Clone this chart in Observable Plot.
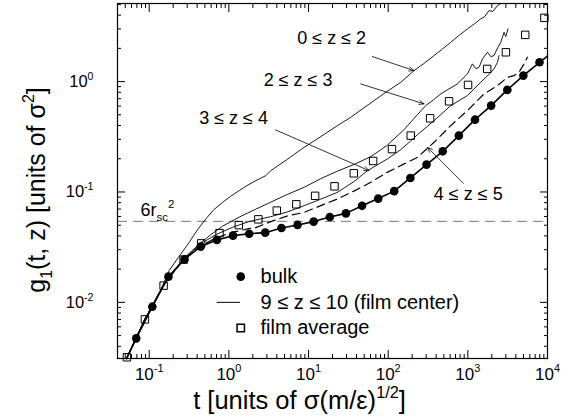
<!DOCTYPE html>
<html>
<head>
<meta charset="utf-8">
<script src="https://cdn.jsdelivr.net/npm/d3@7"></script>
<script src="https://cdn.jsdelivr.net/npm/@observablehq/plot@0.6"></script>
<style>
  html, body { margin: 0; padding: 0; background: #fff; }
  #chart svg { display: block; }
</style>
</head>
<body>
<div id="chart"></div>
<script>
// Mean-square displacement g1(t, z) of chain monomers, log-log.

// bulk melt (filled circles)
const bulkT = [0.0687, 0.1095, 0.1745, 0.278, 0.443, 0.707, 1.127, 1.80, 2.86, 4.57, 7.28, 11.6, 18.5, 29.5, 47.0, 75.0, 119, 190, 303, 484, 771, 1230, 1960, 3130, 4980, 7940];
const bulkG = [0.00472, 0.00914, 0.0171, 0.0246, 0.0320, 0.0368, 0.0402, 0.0419, 0.0428, 0.0472, 0.0503, 0.0539, 0.0594, 0.0640, 0.0749, 0.0871, 0.1018, 0.134, 0.177, 0.2335, 0.324, 0.452, 0.606, 0.841, 1.133, 1.496];

// film average (open squares)
const filmAvgT = [0.0525, 0.0883, 0.1517, 0.270, 0.449, 0.764, 1.335, 2.345, 4.0, 7.03, 12.1, 21.2, 37.0, 64.7, 111.6, 192, 336, 581, 1006, 1750, 3006, 5250, 9140];
const filmAvgG = [0.00318, 0.00701, 0.01417, 0.02438, 0.03424, 0.04238, 0.0501, 0.0565, 0.0678, 0.0773, 0.0923, 0.1125, 0.1476, 0.191, 0.2445, 0.324, 0.465, 0.663, 0.933, 1.303, 1.843, 2.65, 3.78];

// 9 <= z <= 10 (film center)
const centerT = [0.052, 0.0687, 0.1095, 0.1745, 0.278, 0.443, 0.707, 1.127, 1.80, 2.86, 4.57, 7.28, 11.6, 18.5, 29.5, 47.0, 75.0, 119, 190, 303, 484, 771, 1230, 1960, 3130, 4980, 7940, 10000];
const centerG = [0.00309, 0.00472, 0.00914, 0.0171, 0.0246, 0.0320, 0.0368, 0.0402, 0.0419, 0.0428, 0.0472, 0.0503, 0.0539, 0.0594, 0.0640, 0.0749, 0.0871, 0.1018, 0.134, 0.177, 0.2335, 0.324, 0.452, 0.606, 0.841, 1.133, 1.496, 1.70];

// 0 <= z <= 2
const z02T = [0.0518, 0.0883, 0.140, 0.178, 0.236, 0.318, 0.397, 0.514, 0.648, 0.834, 1.06, 1.346, 1.682, 2.18, 2.91, 3.365, 5.34, 8.81, 14.27, 23.1, 33.9, 48.0, 66.5, 96.0, 144, 211, 280, 377, 470, 610, 769, 988, 1221, 1451, 1630, 1845, 2053, 2352, 2588];
const z02G = [0.00309, 0.00705, 0.01303, 0.01938, 0.02595, 0.03498, 0.04465, 0.0570, 0.0692, 0.0806, 0.0917, 0.1028, 0.1142, 0.1267, 0.1406, 0.1561, 0.1964, 0.2539, 0.3174, 0.3993, 0.4748, 0.569, 0.6727, 0.812, 0.9855, 1.258, 1.456, 1.72, 1.95, 2.271, 2.611, 3.003, 3.355, 3.70, 3.88, 4.40, 4.31, 4.88, 5.09];

// 2 <= z <= 3
const z23T = [0.0518, 0.0883, 0.1516, 0.2648, 0.4453, 0.5944, 0.834, 1.346, 2.18, 3.365, 5.34, 8.81, 14.27, 23.1, 37.0, 60.5, 96.0, 158.3, 233, 296, 373, 457, 560, 740, 988, 1142, 1256, 1382, 1538, 1762, 1938, 2132, 2373, 2588, 2846, 2989, 3194];
const z23G = [0.00309, 0.00705, 0.01432, 0.02463, 0.03475, 0.0411, 0.04903, 0.05917, 0.06993, 0.0809, 0.0946, 0.1102, 0.1321, 0.1545, 0.177, 0.2091, 0.263, 0.3673, 0.5023, 0.606, 0.687, 0.7738, 0.8464, 0.9532, 1.174, 1.447, 1.311, 1.348, 1.616, 1.843, 1.685, 1.72, 2.033, 2.271, 2.798, 2.557, 3.003];

// 3 <= z <= 4
const z34T = [0.0518, 0.0883, 0.1516, 0.2725, 0.4453, 0.707, 1.1225, 1.782, 3.365, 5.34, 8.81, 14.27, 23.1, 37.0, 55.0, 98.0, 144, 192, 233, 377, 610, 988, 1451, 1938, 2132, 2352, 2463];
const z34G = [0.00309, 0.00705, 0.01432, 0.02463, 0.03404, 0.0415, 0.048, 0.0539, 0.0598, 0.0657, 0.0752, 0.0861, 0.0993, 0.1241, 0.1561, 0.1993, 0.2419, 0.29, 0.33, 0.4431, 0.606, 0.7465, 0.9855, 1.206, 1.303, 1.496, 1.72];

// 4 <= z <= 5 (dashed)
const z45T = [0.0518, 0.0883, 0.1516, 0.2725, 0.4453, 0.707, 1.1225, 1.782, 2.18, 3.365, 5.34, 8.81, 14.27, 23.1, 37.0, 60.5, 96.0, 158.3, 233, 377, 610, 988, 1597, 2352, 3141, 3799, 4390, 5072, 5595];
const z45G = [0.00309, 0.00705, 0.01432, 0.02463, 0.03265, 0.03859, 0.04327, 0.04655, 0.04752, 0.0539, 0.0604, 0.0654, 0.0752, 0.0865, 0.1018, 0.1223, 0.1497, 0.1796, 0.2061, 0.2818, 0.3993, 0.546, 0.7738, 0.92, 1.094, 1.133, 1.214, 1.447, 1.66];

// 6 r_sc^2 reference level
const sixRsc2 = 0.0542;

// layer labels and the arrows pointing at their curves
const layerLabels = ["0 \u2264 z \u2264 2", "2 \u2264 z \u2264 3", "3 \u2264 z \u2264 4", "4 \u2264 z \u2264 5"];
const labelT = [19.5, 7.40, 1.146, 1012];
const labelG = [2.453, 1.021, 0.467, 0.0946];
const arrowFromT = [63.3, 45.1, 3.86, 880];
const arrowFromG = [1.685, 0.953, 0.365, 0.1198];
const arrowToT = [211, 282, 57.4, 311];
const arrowToG = [1.258, 0.628, 0.1561, 0.2539];

// legend entries
const legendLabels = ["bulk", "9 \u2264 z \u2264 10 (film center)", "film average"];
const legendG = [0.0171, 0.0100, 0.00586];
const legendMarkT = 1.41;
const legendLineT = [0.715, 1.40];
const legendTextT = 2.50;

// ticks
const xMajor = [0.1, 1, 10, 100, 1000, 10000];
const yMajor = [0.01, 0.1, 1];

const pairs = (T, G) => T.map((t, i) => ({t, g: G[i]}));
const bulk = pairs(bulkT, bulkG);
const filmAvg = pairs(filmAvgT, filmAvgG);
const center = pairs(centerT, centerG);
const z02 = pairs(z02T, z02G);
const z23 = pairs(z23T, z23G);
const z34 = pairs(z34T, z34G);
const z45 = pairs(z45T, z45G);
const labels = layerLabels.map((s, i) => ({s, t: labelT[i], g: labelG[i]}));
const arrows = layerLabels.map((s, i) => ({x1: arrowFromT[i], y1: arrowFromG[i], x2: arrowToT[i], y2: arrowToG[i]}));
const legend = legendLabels.map((s, i) => ({s, g: legendG[i]}));

const xDomain = [0.04, 10000];
const yDomain = [0.0031, 5.1];
const minorTicks = ([lo, hi]) => {
  const out = [];
  for (let e = Math.floor(Math.log10(lo)); e <= Math.ceil(Math.log10(hi)); e++)
    for (let m = 2; m <= 9; m++) {
      const v = m * Math.pow(10, e);
      if (v >= lo && v <= hi) out.push(v);
    }
  return out;
};
const xMinor = minorTicks(xDomain);
const yMinor = minorTicks(yDomain);

const pow10 = d => `10^{${Math.round(Math.log10(d))}}`;
const blank = () => "";
const tickAxes = [];
for (const anchor of ["bottom", "top"]) {
  tickAxes.push(Plot.axisX(xMajor, {anchor, tickSize: -8, tickFormat: blank, label: null}));
  tickAxes.push(Plot.axisX(xMinor, {anchor, tickSize: -4, tickFormat: blank, label: null}));
}
for (const anchor of ["left", "right"]) {
  tickAxes.push(Plot.axisY(yMajor, {anchor, tickSize: -8, tickFormat: blank, label: null}));
  tickAxes.push(Plot.axisY(yMinor, {anchor, tickSize: -4, tickFormat: blank, label: null}));
}

const thin = {x: "t", y: "g", stroke: "black", strokeWidth: 0.9};

const plot = Plot.plot({
  width: 571,
  height: 420,
  marginLeft: 117,
  marginRight: 24,
  marginTop: 3,
  marginBottom: 62,
  style: {fontFamily: "'Liberation Sans', Arial, sans-serif", fontSize: "17px", color: "black", background: "white"},
  x: {type: "log", domain: xDomain},
  y: {type: "log", domain: yDomain},
  marks: [
    Plot.ruleY([sixRsc2], {stroke: "#777", strokeWidth: 1, strokeDasharray: "10,6"}),
    Plot.line(z02, thin),
    Plot.line(z23, thin),
    Plot.line(z34, thin),
    Plot.line(z45, {...thin, strokeWidth: 1.2, strokeDasharray: "8,5"}),
    Plot.line(center, {x: "t", y: "g", stroke: "black", strokeWidth: 1.6}),
    Plot.dot(bulk, {x: "t", y: "g", r: 4.3, fill: "black"}),
    Plot.dot(filmAvg, {x: "t", y: "g", r: 4.2, symbol: "square", stroke: "black", strokeWidth: 1, fill: "none"}),
    Plot.arrow(arrows, {x1: "x1", y1: "y1", x2: "x2", y2: "y2", stroke: "black", strokeWidth: 0.8, headLength: 10, headAngle: 45}),
    Plot.text(labels, {x: "t", y: "g", text: "s", fontSize: 18}),
    Plot.text(["6r_{sc}^{2}"], {x: [0.0778], y: [0.0611], text: d => d, textAnchor: "start", lineAnchor: "bottom", fontSize: 18}),
    // legend
    Plot.dot(legend.slice(0, 1), {x: () => legendMarkT, y: "g", r: 4.3, fill: "black"}),
    Plot.ruleY(legend.slice(1, 2), {x1: legendLineT[0], x2: legendLineT[1], y: "g", stroke: "black", strokeWidth: 1}),
    Plot.dot(legend.slice(2, 3), {x: () => legendMarkT, y: "g", r: 4.2, symbol: "square", stroke: "black", fill: "none"}),
    Plot.text(legend, {x: () => legendTextT, y: "g", text: "s", textAnchor: "start", fontSize: 20}),
    // axes
    ...tickAxes,
    Plot.axisX(xMajor, {anchor: "bottom", tickSize: 0, tickPadding: 9, tickFormat: pow10, label: null, fontSize: 17}),
    Plot.axisY(yMajor, {anchor: "left", tickSize: 0, tickPadding: 24, tickFormat: pow10, label: null, fontSize: 16.5}),
    Plot.text(["t [units of \u03c3(m/\u03b5)^{1/2}]"], {frameAnchor: "bottom", textAnchor: "middle", dx: -33, dy: 50, lineAnchor: "bottom", fontSize: 25.5, text: d => d}),
    Plot.text(["g_{1}(t, z) [units of \u03c3^{2}]"], {frameAnchor: "left", textAnchor: "middle", rotate: -90, dx: -81, dy: 9, fontSize: 25, text: d => d}),
    Plot.frame({stroke: "black", strokeWidth: 1.2})
  ]
});

document.getElementById("chart").appendChild(plot);

// Turn ^{...} and _{...} markup into raised / lowered tspans.
const SVGNS = "http://www.w3.org/2000/svg";
function richText(node) {
  const s = node.textContent;
  if (!/[\^_]\{/.test(s)) return;
  const fs = parseFloat(getComputedStyle(node).fontSize);
  node.textContent = "";
  const re = /([\^_])\{([^}]*)\}|([^\^_]+)/g;
  let m, shift = 0;
  while ((m = re.exec(s))) {
    const span = document.createElementNS(SVGNS, "tspan");
    const target = m[1] === "^" ? -0.42 * fs : m[1] === "_" ? 0.28 * fs : 0;
    if (target !== shift) span.setAttribute("dy", target - shift);
    shift = target;
    if (m[1]) span.setAttribute("font-size", (0.64 * fs).toFixed(1));
    span.textContent = m[1] ? m[2] : m[3];
    node.appendChild(span);
  }
}
plot.querySelectorAll("text").forEach(richText);
</script>
</body>
</html>
